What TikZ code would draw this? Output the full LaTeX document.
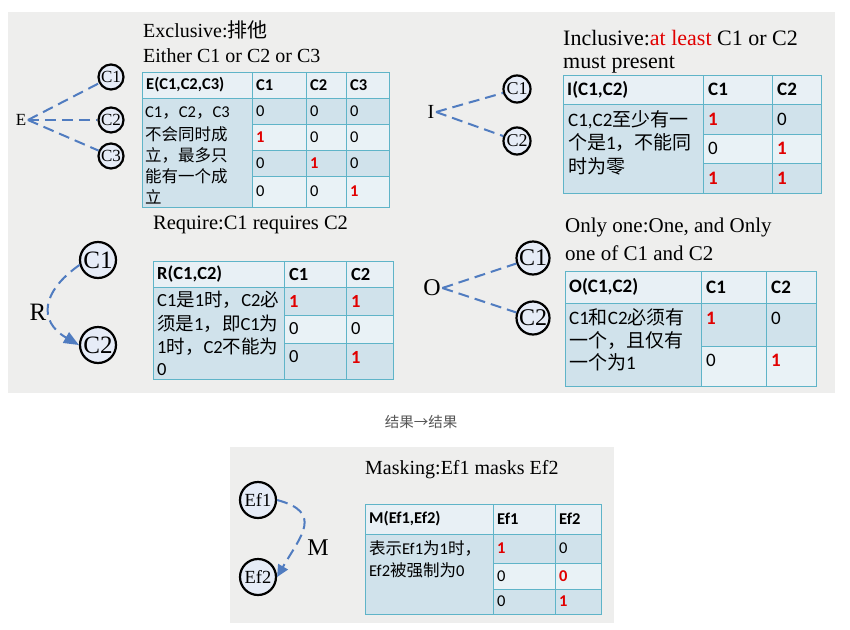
\documentclass[tikz,border=0pt]{standalone}
\usepackage{fontspec}
\setmainfont{Liberation Serif}
\setsansfont{Carlito}
\newfontfamily\zhfont{Noto Sans CJK SC}
\newcommand\zh[1]{{\zhfont #1}}
\usetikzlibrary{arrows.meta}
\definecolor{bgc}{RGB}{238,238,237}
\definecolor{hdc}{RGB}{232,240,245}
\definecolor{dkc}{RGB}{208,226,235}
\definecolor{ltc}{RGB}{233,242,246}
\definecolor{bdc}{RGB}{95,180,200}
\definecolor{lnc}{RGB}{80,124,192}
\definecolor{nfc}{RGB}{230,236,247}
\definecolor{rdc}{RGB}{225,0,0}
\definecolor{capc}{RGB}{85,85,85}
\newcommand\rone{\textcolor{rdc}{\bfseries 1}}
\begin{document}
\begin{tikzpicture}[x=1pt,y=-1pt,
  tb/.style={draw=bdc, line width=1pt},
  nd/.style={circle, draw=black, line width=2.2pt, fill=nfc, inner sep=0pt},
  dl/.style={draw=lnc, line width=2pt, dash pattern=on 11pt off 6pt},
  tx/.style={anchor=west, inner sep=0pt},
  lbl/.style={inner sep=1.5pt}]
\useasboundingbox (0,0) rectangle (850,629);
% panels
\fill[bgc] (8,12) rectangle (835,393);
\fill[bgc] (230,447) rectangle (614,623);
\node[text=capc, font=\zhfont\fontsize{14.5}{17}\selectfont] (cap) at (421,422) {结果→结果};

% ================= E =================
\node[tx, font=\fontsize{20}{24}\selectfont] (Et1) at (143,30) {Exclusive:\zh{排他}};
\node[tx, font=\fontsize{20}{24}\selectfont] (Et2) at (143,56) {Either C1 or C2 or C3};
\fill[hdc] (142,72) rectangle (389,98);
\fill[dkc] (142,98) rectangle (252,207);
\fill[dkc] (252,98) rectangle (389,124);
\fill[ltc] (252,124) rectangle (389,150);
\fill[dkc] (252,150) rectangle (389,176);
\fill[ltc] (252,176) rectangle (389,207);
\draw[tb] (142,72) rectangle (389,207);
\draw[tb] (142,98) -- (389,98);
\draw[tb] (252,124) -- (389,124) (252,150) -- (389,150) (252,176) -- (389,176);
\draw[tb] (252,72) -- (252,207) (306,72) -- (306,207) (346,72) -- (346,207);
\begin{scope}[font=\sffamily\fontsize{16.5}{20}\selectfont]
\node[tx] (Eh0) at (146,85) {\bfseries E(C1,C2,C3)};
\node[tx] (Eh1) at (256,85) {\bfseries C1};
\node[tx] (Eh2) at (310,85) {\bfseries C2};
\node[tx] (Eh3) at (350,85) {\bfseries C3};
\node[tx] (Eb1) at (145,113) {C1\zh{，}C2\zh{，}C3};
\node[tx] (Eb2) at (145,134) {\zh{不会同时成}};
\node[tx] (Eb3) at (145,155) {\zh{立，最多只}};
\node[tx] (Eb4) at (145,176) {\zh{能有一个成}};
\node[tx] (Eb5) at (145,197) {\zh{立}};
\node[tx] (Ea1) at (256,111) {0};
\node[tx] (Ea2) at (310,111) {0};
\node[tx] (Ea3) at (350,111) {0};
\node[tx] (Eb1c) at (256,137) {\rone};
\node[tx] (Eb2c) at (310,137) {0};
\node[tx] (Eb3c) at (350,137) {0};
\node[tx] (Ec1) at (256,163) {0};
\node[tx] (Ec2) at (310,163) {\rone};
\node[tx] (Ec3) at (350,163) {0};
\node[tx] (Ed1) at (256,191) {0};
\node[tx] (Ed2) at (310,191) {0};
\node[tx] (Ed3) at (350,191) {\rone};
\end{scope}
\node[lbl, font=\fontsize{17}{20}\selectfont] (Elbl) at (21,120) {E};
\node[nd, minimum size=25pt, font=\fontsize{17}{20}\selectfont] (EC1) at (111,77) {C1};
\node[nd, minimum size=25pt, font=\fontsize{17}{20}\selectfont] (EC2) at (111,120) {C2};
\node[nd, minimum size=25pt, font=\fontsize{17}{20}\selectfont] (EC3) at (111,156) {C3};
\draw[dl] (Elbl.east) -- (EC1);
\draw[dl] (Elbl.east) -- (EC2);
\draw[dl] (Elbl.east) -- (EC3);

% ================= I =================
\node[tx, font=\fontsize{22}{26}\selectfont] (It1) at (563,38) {Inclusive:\textcolor{rdc}{at least} C1 or C2};
\node[tx, font=\fontsize{22}{26}\selectfont] (It2) at (563,65) {must present};
\fill[hdc] (563,75) rectangle (821,104);
\fill[dkc] (563,104) rectangle (703,193);
\fill[dkc] (703,104) rectangle (821,134);
\fill[ltc] (703,134) rectangle (821,163);
\fill[dkc] (703,163) rectangle (821,193);
\draw[tb] (563,75) rectangle (821,193);
\draw[tb] (563,104) -- (821,104);
\draw[tb] (703,134) -- (821,134) (703,163) -- (821,163);
\draw[tb] (703,75) -- (703,193) (772,75) -- (772,193);
\begin{scope}[font=\sffamily\fontsize{19}{23}\selectfont]
\node[tx] (Ih0) at (567,89.5) {\bfseries I(C1,C2)};
\node[tx] (Ih1) at (708,89.5) {\bfseries C1};
\node[tx] (Ih2) at (777,89.5) {\bfseries C2};
\node[tx] (Ib1) at (568,120) {C1,C2\zh{至少有一}};
\node[tx] (Ib2) at (568,143) {\zh{个是}1\zh{，不能同}};
\node[tx] (Ib3) at (568,166) {\zh{时为零}};
\node[tx] (Ia1) at (708,119) {\rone};
\node[tx] (Ia2) at (777,119) {0};
\node[tx] (Ib1c) at (708,148.5) {0};
\node[tx] (Ib2c) at (777,148.5) {\rone};
\node[tx] (Ic1) at (708,178) {\rone};
\node[tx] (Ic2) at (777,178) {\rone};
\end{scope}
\node[lbl, font=\fontsize{20}{24}\selectfont] (Ilbl) at (431,112) {I};
\node[nd, minimum size=27pt, font=\fontsize{18}{21}\selectfont] (IC1) at (517,89) {C1};
\node[nd, minimum size=27pt, font=\fontsize{18}{21}\selectfont] (IC2) at (517,141) {C2};
\draw[dl] (Ilbl.east) -- (IC1);
\draw[dl] (Ilbl.east) -- (IC2);

% ================= R =================
\node[tx, font=\fontsize{20.5}{24}\selectfont] (Rt1) at (153,225) {Require:C1 requires C2};
\fill[hdc] (153,261) rectangle (393,287);
\fill[dkc] (153,287) rectangle (284,379);
\fill[dkc] (284,287) rectangle (393,315);
\fill[ltc] (284,315) rectangle (393,343);
\fill[dkc] (284,343) rectangle (393,379);
\draw[tb] (153,261) rectangle (393,379);
\draw[tb] (153,287) -- (393,287);
\draw[tb] (284,315) -- (393,315) (284,343) -- (393,343);
\draw[tb] (284,261) -- (284,379) (346,261) -- (346,379);
\begin{scope}[font=\sffamily\fontsize{18.5}{22}\selectfont]
\node[tx] (Rh0) at (157,274) {\bfseries R(C1,C2)};
\node[tx] (Rh1) at (289,274) {\bfseries C1};
\node[tx] (Rh2) at (351,274) {\bfseries C2};
\node[tx] (Rb1) at (157,300) {C1\zh{是}1\zh{时，}C2\zh{必}};
\node[tx] (Rb2) at (157,324) {\zh{须是}1\zh{，即}C1\zh{为}};
\node[tx] (Rb3) at (157,347) {1\zh{时，}C2\zh{不能为}};
\node[tx] (Rb4) at (157,370) {0};
\node[tx] (Ra1) at (289,301) {\rone};
\node[tx] (Ra2) at (351,301) {\rone};
\node[tx] (Rb1c) at (289,329) {0};
\node[tx] (Rb2c) at (351,329) {0};
\node[tx] (Rc1) at (289,357) {0};
\node[tx] (Rc2) at (351,357) {\rone};
\end{scope}
\node[lbl, font=\fontsize{25}{30}\selectfont] (Rlbl) at (38,312) {R};
\node[nd, minimum size=36pt, font=\fontsize{25}{30}\selectfont] (RC1) at (98,260) {C1};
\node[nd, minimum size=36pt, font=\fontsize{25}{30}\selectfont] (RC2) at (98,345) {C2};
\draw[dl, -{Triangle[length=15pt,width=12pt]}] (RC1.195) to[out=215,in=150,looseness=1.5] (RC2.west);

% ================= O =================
\node[tx, font=\fontsize{21}{25}\selectfont] (Ot1) at (565,227) {Only one:One, and Only};
\node[tx, font=\fontsize{21}{25}\selectfont] (Ot2) at (565,253) {one of C1 and C2};
\fill[hdc] (565,271) rectangle (816,303);
\fill[dkc] (565,303) rectangle (701,386);
\fill[dkc] (701,303) rectangle (816,346);
\fill[ltc] (701,346) rectangle (816,386);
\draw[tb] (565,271) rectangle (816,386);
\draw[tb] (565,303) -- (816,303);
\draw[tb] (701,346) -- (816,346);
\draw[tb] (701,271) -- (701,386) (766,271) -- (766,386);
\begin{scope}[font=\sffamily\fontsize{19}{23}\selectfont]
\node[tx] (Oh0) at (569,287) {\bfseries O(C1,C2)};
\node[tx] (Oh1) at (706,287) {\bfseries C1};
\node[tx] (Oh2) at (771,287) {\bfseries C2};
\node[tx] (Ob1) at (569,317) {C1\zh{和}C2\zh{必须有}};
\node[tx] (Ob2) at (569,341) {\zh{一个，且仅有}};
\node[tx] (Ob3) at (569,362) {\zh{一个为}1};
\node[tx] (Oa1) at (706,318) {\rone};
\node[tx] (Oa2) at (771,318) {0};
\node[tx] (Ob1c) at (706,360) {0};
\node[tx] (Ob2c) at (771,360) {\rone};
\end{scope}
\node[lbl, font=\fontsize{24}{28}\selectfont] (Olbl) at (432,288) {O};
\node[nd, minimum size=33pt, font=\fontsize{24}{28}\selectfont] (OC1) at (533,258) {C1};
\node[nd, minimum size=33pt, font=\fontsize{24}{28}\selectfont] (OC2) at (533,318) {C2};
\draw[dl] (Olbl.east) -- (OC1);
\draw[dl] (Olbl.east) -- (OC2);

% ================= M =================
\node[tx, font=\fontsize{20}{24}\selectfont] (Mt1) at (365,470) {Masking:Ef1 masks Ef2};
\fill[hdc] (365,504) rectangle (601,534);
\fill[dkc] (365,534) rectangle (493,614);
\fill[dkc] (493,534) rectangle (601,563);
\fill[ltc] (493,563) rectangle (601,589);
\fill[dkc] (493,589) rectangle (601,614);
\draw[tb] (365,504) rectangle (601,614);
\draw[tb] (365,534) -- (601,534);
\draw[tb] (493,563) -- (601,563) (493,589) -- (601,589);
\draw[tb] (493,504) -- (493,614) (555,504) -- (555,614);
\begin{scope}[font=\sffamily\fontsize{16.5}{20}\selectfont]
\node[tx] (Mh0) at (369,519) {\bfseries M(Ef1,Ef2)};
\node[tx] (Mh1) at (497,519) {\bfseries Ef1};
\node[tx] (Mh2) at (559,519) {\bfseries Ef2};
\node[tx] (Mb1) at (369,548) {\zh{表示}Ef1\zh{为}1\zh{时，}};
\node[tx] (Mb2) at (369,570) {Ef2\zh{被强制为}0};
\node[tx] (Ma1) at (497,548.5) {\rone};
\node[tx] (Ma2) at (559,548.5) {0};
\node[tx] (Mb1c) at (497,576) {0};
\node[tx] (Mb2c) at (559,576) {\textcolor{rdc}{\bfseries 0}};
\node[tx] (Mc1) at (497,601.5) {0};
\node[tx] (Mc2) at (559,601.5) {\rone};
\end{scope}
\node[lbl, font=\fontsize{24}{28}\selectfont] (Mlbl) at (318,548) {M};
\node[nd, minimum size=36pt, font=\fontsize{18.5}{22}\selectfont] (MEf1) at (258,500) {Ef1};
\node[nd, minimum size=36pt, font=\fontsize{18.5}{22}\selectfont] (MEf2) at (258,577) {Ef2};
\draw[dl, -{Triangle[length=12pt,width=11pt]}] (MEf1.east) to[out=-15,in=60,looseness=1.6] (MEf2.east);
\end{tikzpicture}
\end{document}
